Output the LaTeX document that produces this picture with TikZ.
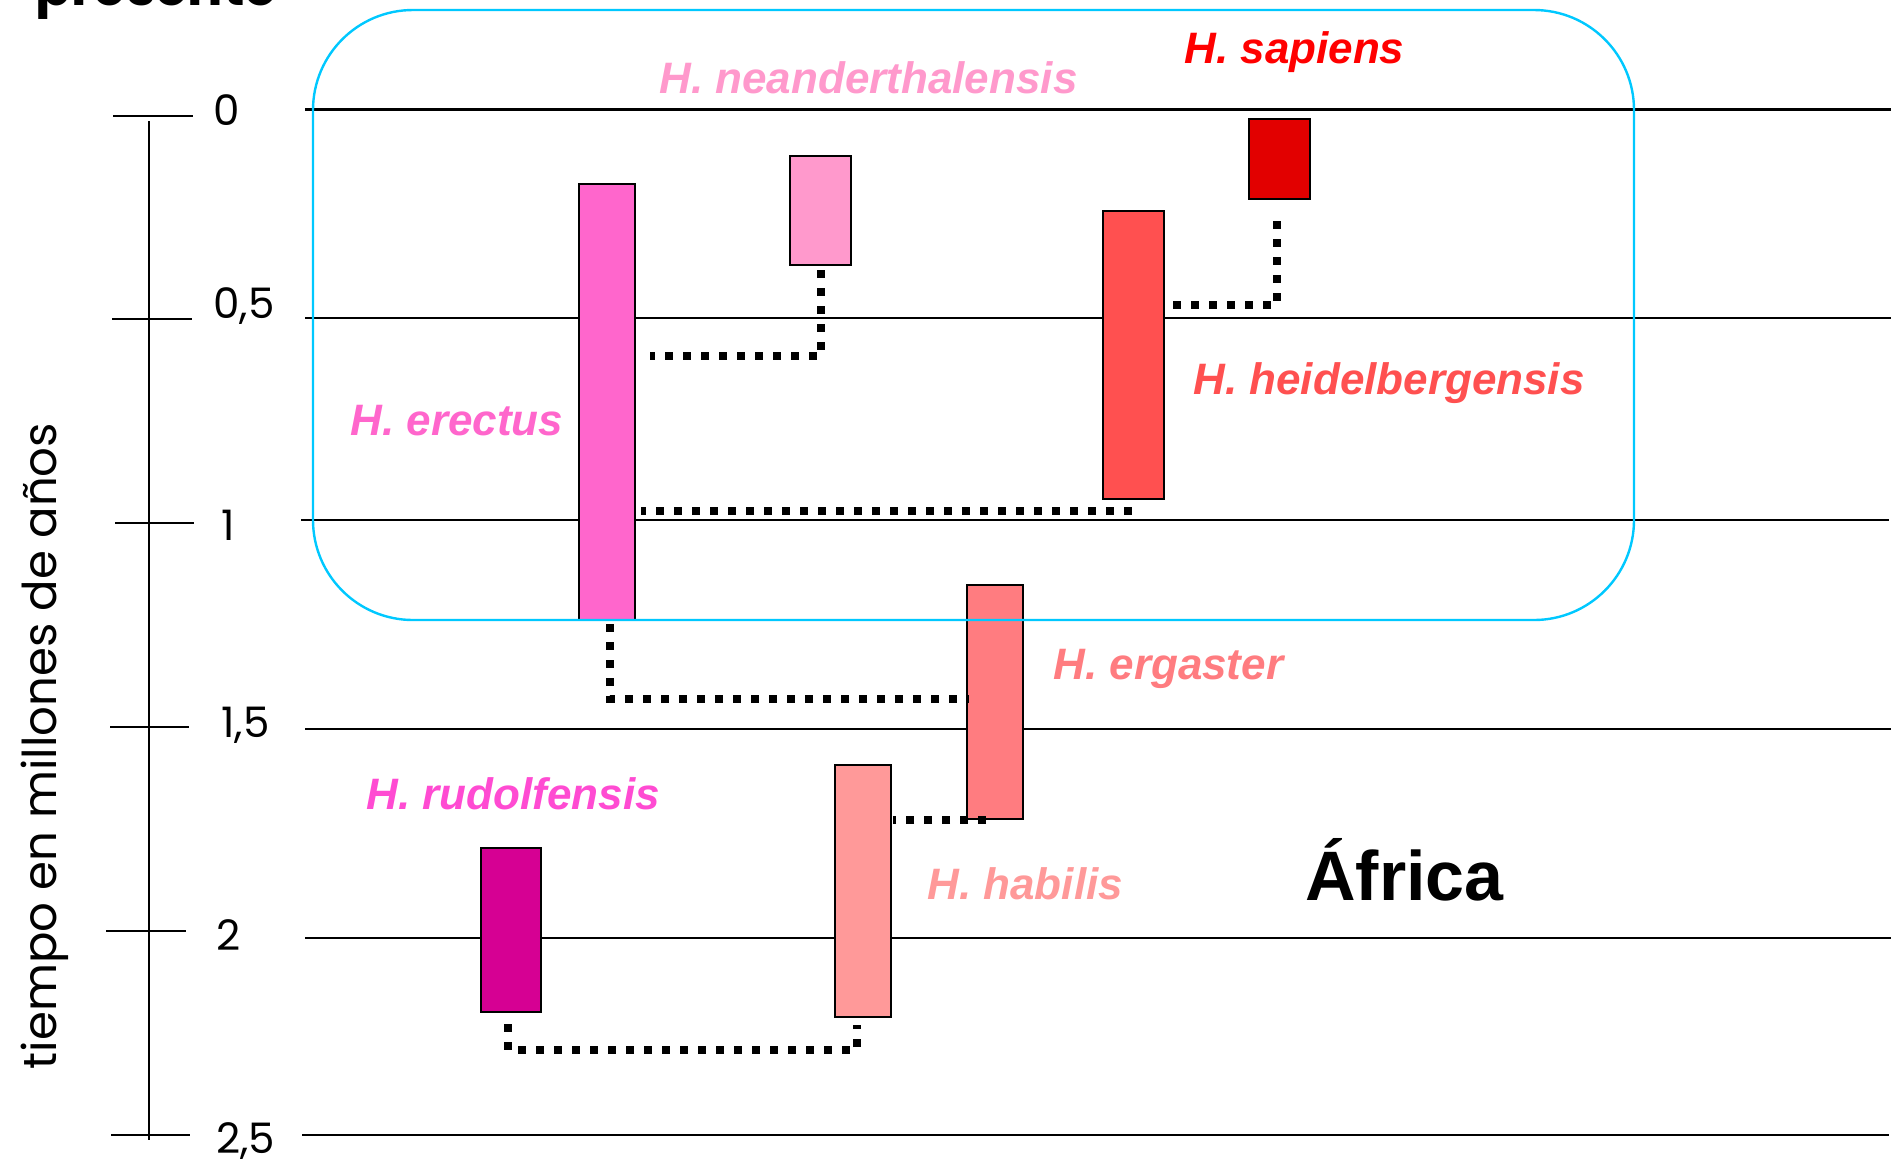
\documentclass[tikz,border=0pt]{standalone}
\usepackage{fontspec}
\setmainfont{Liberation Sans}
\newfontfamily\comic{Poppins}
\usetikzlibrary{fit,calc}
\definecolor{cErectus}{HTML}{FF66CC}
\definecolor{cNeander}{HTML}{FF99CC}
\definecolor{cHeid}{HTML}{FF5050}
\definecolor{cSapiens}{HTML}{E20000}
\definecolor{cSapiensL}{HTML}{FF0000}
\definecolor{cErgaster}{HTML}{FF7C80}
\definecolor{cHabilis}{HTML}{FF9999}
\definecolor{cRudolf}{HTML}{D60093}
\definecolor{cRudolfL}{HTML}{FF4BD2}
\definecolor{cBlue}{HTML}{00C8FF}
\begin{document}
\begin{tikzpicture}[x=0.5pt,y=-0.5pt,
  spbox/.style={draw=black,line width=1.3pt,inner sep=0pt,outer sep=0pt},
  conn/.style={line width=4pt,dash pattern=on 4pt off 5pt},
  gridline/.style={line width=1.2pt},
  lab/.style={font=\fontsize{22}{26}\selectfont\bfseries\itshape,anchor=base west,inner sep=0pt},
  num/.style={font=\comic\fontsize{21}{24}\selectfont,anchor=base west,inner sep=0pt}]
\useasboundingbox (0,0) rectangle (1895,1164);
% horizontal time lines
\draw[gridline] (305,109.5) -- (1891,109.5);
\draw[gridline] (305,318) -- (1891,318);
\draw[gridline] (301,520) -- (1889,520);
\draw[gridline] (305,729) -- (1891,729);
\draw[gridline] (305,938) -- (1891,938);
\draw[gridline] (302,1135) -- (1889,1135);
% axis
\draw[gridline] (149,121) -- (149,1140);
\draw[gridline] (113,116) -- (193,116);
\draw[gridline] (112,319) -- (192,319);
\draw[gridline] (115,523) -- (194,523);
\draw[gridline] (110,727) -- (189,727);
\draw[gridline] (106,931) -- (186,931);
\draw[gridline] (111,1135) -- (190,1135);
\node[num] (n0) at (213,125) {0};
\node[num] (n05) at (213,318) {0,5};
\node[num] (n1) at (221,540) {1};
\node[num] (n15) at (221,737) {1,5};
\node[num] (n2) at (216,950) {2};
\node[num] (n25) at (216,1153) {2,5};
\node[font=\comic\fontsize{23.3}{26}\selectfont,rotate=90,inner sep=0pt] (axislabel) at (45,746) {tiempo en millones de años};
\node[font=\comic\bfseries\fontsize{26.3}{30}\selectfont,anchor=base west,inner sep=0pt] (pres) at (35,5) {presente};
% species boxes
\node[spbox,fill=cErectus,fit={(579,184) (635,620)}] (erectus) {};
\node[spbox,fill=cNeander,fit={(790,156) (851,265)}] (neander) {};
\node[spbox,fill=cHeid,fit={(1103,211) (1164,499)}] (heid) {};
\node[spbox,fill=cSapiens,fit={(1249,119) (1310,199)}] (sapiens) {};
\node[spbox,fill=cErgaster,fit={(967,585) (1023,819)}] (ergaster) {};
\node[spbox,fill=cHabilis,fit={(835,765) (891,1017)}] (habilis) {};
\node[spbox,fill=cRudolf,fit={(481,848) (541,1012)}] (rudolf) {};
% region outline
\node[draw=cBlue,line width=1.2pt,rounded corners=50pt,inner sep=0pt,fit={(313,10) (1634,620)}] (region) {};
% helper levels
\coordinate (yA) at (0,356);
\coordinate (yB) at (0,305);
\coordinate (yC) at (0,511);
\coordinate (yD) at (0,699);
\coordinate (yE) at (0,820);
% connectors
\draw[conn] ($(neander.south)+(0,5)$) |- ($(erectus.east |- yA)+(15,0)$);
\draw[conn] ($(sapiens.south)+(-3,22)$) |- ($(heid.east |- yB)+(4,0)$);
\draw[conn] ($(heid.south)+(-2,12)$) -- ($(erectus.east |- yC)+(6,0)$);
\draw[conn] ($(erectus.south)+(3,4)$) |- ($(ergaster.west |- yD)+(2,0)$);
\draw[conn] ($(ergaster.south)+(-9,1)$) -- ($(habilis.east |- yE)+(2,0)$);
\draw[conn] ($(rudolf.south)+(-3,12)$) |- ($(habilis.south)+(-6,33)$) -- ($(habilis.south)+(-6,8)$);
% labels
\node[lab,text=cNeander] (lneander) at (659,93) {H. neanderthalensis};
\node[lab,text=cSapiensL] (lsapiens) at (1184,63) {H. sapiens};
\node[lab,text=cHeid] (lheid) at (1193,394) {H. heidelbergensis};
\node[lab,text=cErectus] (lerectus) at (350,435) {H. erectus};
\node[lab,text=cErgaster] (lergaster) at (1053,679) {H. ergaster};
\node[lab,text=cRudolfL] (lrudolf) at (366,809) {H. rudolfensis};
\node[lab,text=cHabilis] (lhabilis) at (927,899) {H. habilis};
\node[font=\fontsize{35}{40}\selectfont\bfseries,anchor=base west,inner sep=0pt] (africa) at (1305,900) {África};
\end{tikzpicture}
\end{document}
